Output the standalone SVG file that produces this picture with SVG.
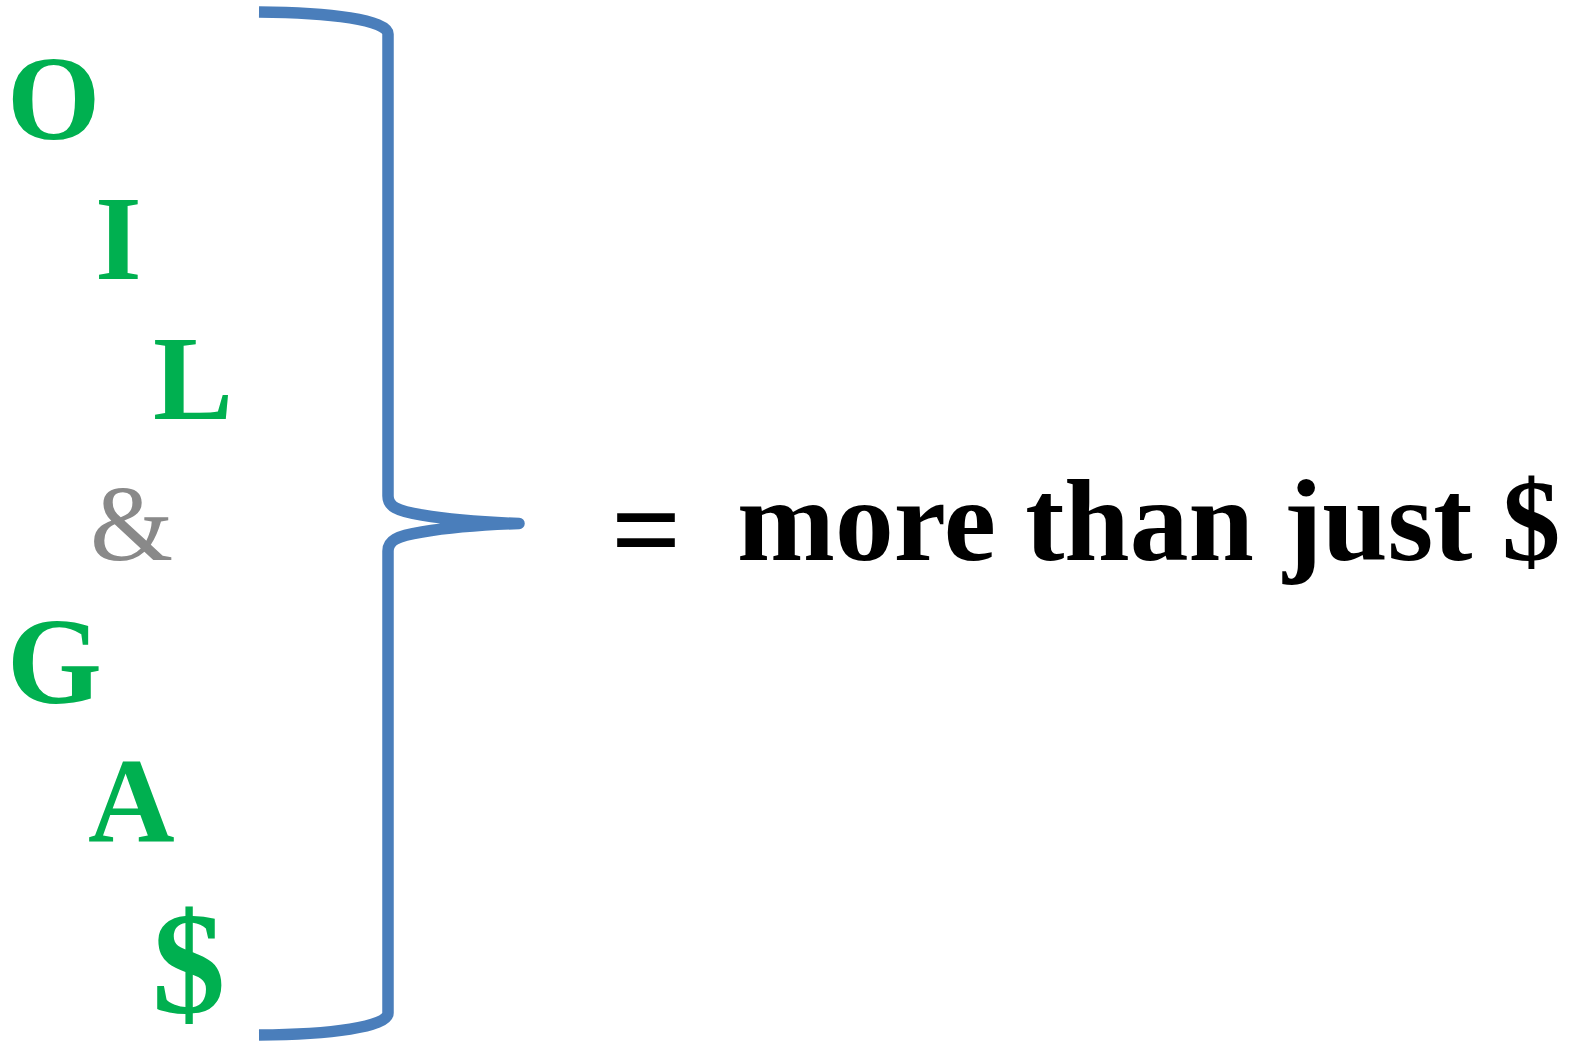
<svg xmlns="http://www.w3.org/2000/svg" width="1574" height="1042" viewBox="0 0 1574 1042">
<style>
.g{font-family:"Liberation Serif","Times New Roman",serif;font-weight:bold;font-size:120px;fill:#00b050}
.amp{font-family:"Liberation Serif","Times New Roman",serif;font-size:107px;fill:#898989}
.t{font-family:"Liberation Serif","Times New Roman",serif;font-weight:bold;font-size:117.5px;fill:#000}
.brace{fill:none;stroke:#4a7ebb;stroke-width:11.5;stroke-linejoin:round;stroke-linecap:butt}
</style>
<rect width="1574" height="1042" fill="#fff"/>
<g id="letters">
<text id="O" class="g" x="7" y="139">O</text>
<text id="I" class="g" x="95" y="279">I</text>
<text id="L" class="g" x="153" y="419">L</text>
<text id="amp" class="amp" x="90" y="560">&amp;</text>
<text id="G" class="g" x="7" y="703" style="font-size:122px">G</text>
<text id="A" class="g" x="88" y="841">A</text>
<text id="dollar" class="g" x="152" y="1013" style="font-size:147px">$</text>
</g>
<g id="connectors">
<path class="brace" d="M259,12 C330,12.5 388,20 388,34 L388,496 C388,506 396,511 422,515 C452,520 490,522.5 519,523.5 C490,524.5 452,527 422,532 C396,536 388,541 388,551 L388,1013 C388,1027 330,1034.5 259,1035"/>
</g>
<g id="result">
<text class="t" y="560"><tspan x="611" y="572" style="font-size:124px">=</tspan><tspan x="737" y="560">more than just $</tspan></text>
</g>
</svg>
